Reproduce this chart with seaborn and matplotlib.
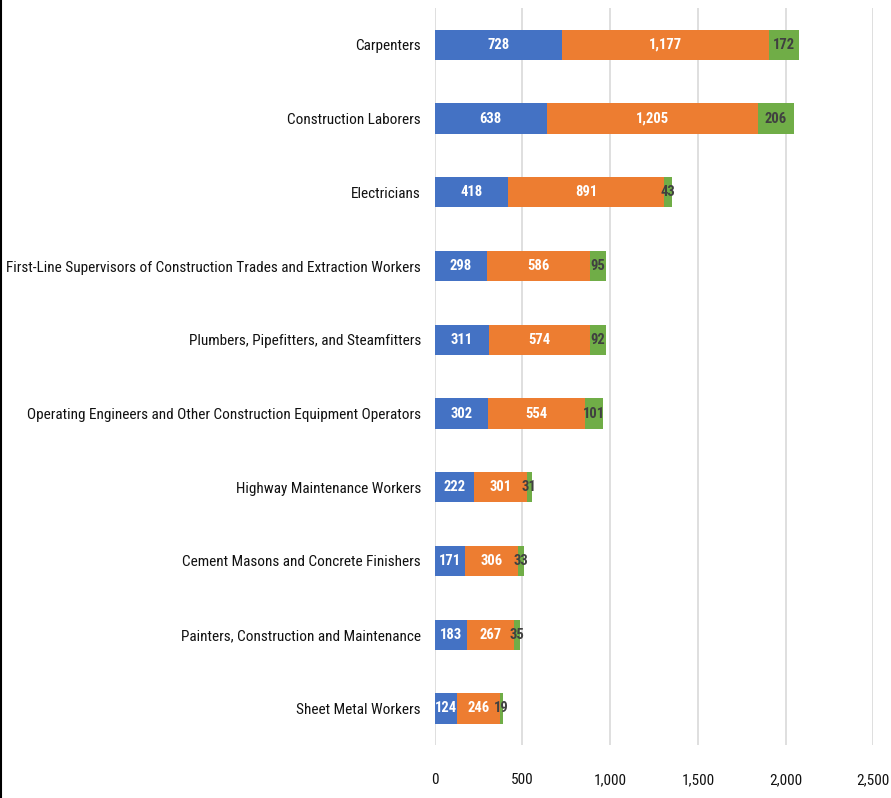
import matplotlib
matplotlib.use("Agg")
import numpy as np
import pandas as pd
import seaborn as sns
from matplotlib import pyplot as plt
from matplotlib.lines import Line2D

# values
occupations = ['Carpenters',
               'Construction Laborers',
               'Electricians',
               'First-Line Supervisors of Construction Trades and Extraction Workers',
               'Plumbers, Pipefitters, and Steamfitters',
               'Operating Engineers and Other Construction Equipment Operators',
               'Highway Maintenance Workers',
               'Cement Masons and Concrete Finishers',
               'Painters, Construction and Maintenance',
               'Sheet Metal Workers']
series_1 = [728, 638, 418, 298, 311, 302, 222, 171, 183, 124]
series_2 = [1177, 1205, 891, 586, 574, 554, 301, 306, 267, 246]
series_3 = [172, 206, 43, 95, 92, 101, 31, 33, 35, 19]

colors = ['#4472C4', '#ED7D31', '#70AD47']
label_colors = ['white', 'white', '#404040']

sns.set_theme(style='white')
plt.rcParams['font.family'] = ['Roboto Condensed', 'DejaVu Sans']

df = pd.DataFrame({'occupation': occupations,
                   's1': series_1, 's2': series_2, 's3': series_3})
df['c1'] = df['s1']
df['c2'] = df['s1'] + df['s2']
df['c3'] = df['c2'] + df['s3']

fig = plt.figure(figsize=(8.91, 7.98), dpi=100)
ax = fig.add_axes([0.488, 0.066, 0.492, 0.924])

# stacked bars drawn as overlapping cumulative bars, longest first
for col, color in zip(['c3', 'c2', 'c1'], colors[::-1]):
    sns.barplot(data=df, x=col, y='occupation', color=color, orient='h',
                width=0.41, saturation=1, linewidth=0, ax=ax, zorder=3)

for i, row in df.iterrows():
    starts = [0, row['c1'], row['c2']]
    vals = [row['s1'], row['s2'], row['s3']]
    for s, v, tc in zip(starts, vals, label_colors):
        ax.text(s + v / 2, i, f"{v:,}", ha='center', va='center',
                color=tc, fontsize=10.5, fontweight='bold', zorder=5)

ax.set_xlim(0, 2500)
ax.set_ylim(9.5, -0.5)
ax.set_xticks(np.arange(0, 2501, 500))
ax.set_xticklabels([f"{t:,}" for t in range(0, 2501, 500)])
ax.xaxis.grid(True, color='#D9D9D9', linewidth=1.2, zorder=0)
ax.set_axisbelow(True)
for sp in ax.spines.values():
    sp.set_visible(False)
ax.set_xlabel('')
ax.set_ylabel('')
ax.tick_params(axis='y', length=0, pad=10, labelsize=11, labelcolor='#111111')
ax.tick_params(axis='x', length=0, pad=20, labelsize=11, labelcolor='#111111')

# outer chart border on the left
fig.add_artist(Line2D([0.0015, 0.0015], [0, 1], color='black', linewidth=1.5))

fig.savefig('out.png', dpi=100)
